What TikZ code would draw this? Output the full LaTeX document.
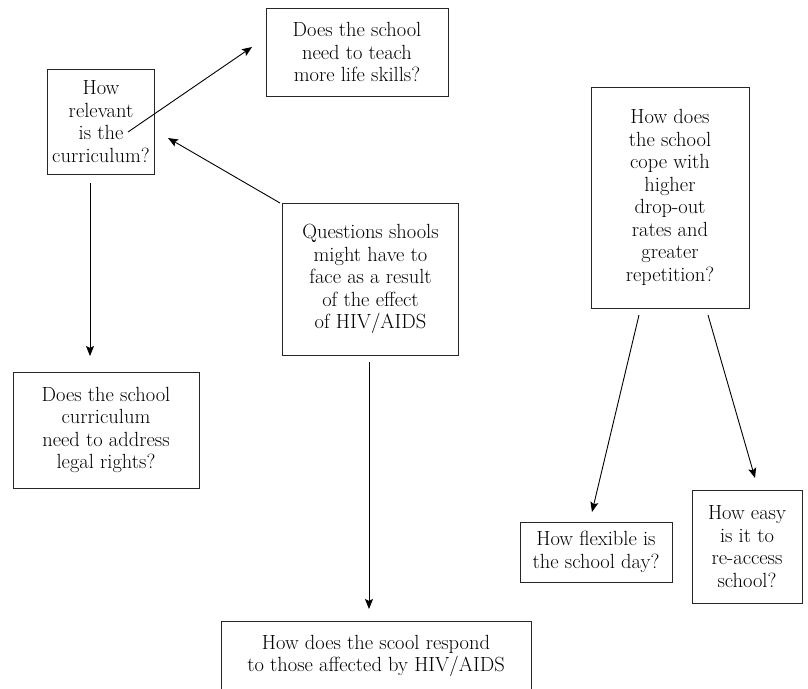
\documentclass[tikz,border=0pt]{standalone}
\usetikzlibrary{arrows.meta}
\begin{document}
\begin{tikzpicture}[x=1pt,y=-1pt,
  qbox/.style={draw=black!85,line width=0.9pt,align=center,inner sep=0pt,
    font=\fontsize{20.5}{22.5}\selectfont},
  conn/.style={line width=0.9pt,-{Stealth[length=10pt,width=8pt,inset=2pt]}}]
\useasboundingbox (0,0) rectangle (808,688);
% boxes
\node[qbox,minimum width=182pt,minimum height=88pt] (skills) at (357,52)
  {Does the school\\need to teach\\more life skills?};
\node[qbox,minimum width=107pt,minimum height=105pt] (relevant) at (101,121.5)
  {How\\relevant\\is the\\curriculum?};
\node[qbox,minimum width=176pt,minimum height=152pt] (questions) at (370.5,279)
  {Questions shools\\might have to\\face as a result\\of the effect\\of HIV/AIDS};
\node[qbox,minimum width=186pt,minimum height=116pt] (legal) at (106,430)
  {Does the school\\curriculum\\need to address\\legal rights?};
\node[qbox,minimum width=158pt,minimum height=221pt] (cope) at (670,197.5)
  {How does\\the school\\cope with\\higher\\drop-out\\rates and\\greater\\repetition?};
\node[qbox,minimum width=152pt,minimum height=60pt] (flexible) at (596,552)
  {How flexible is\\the school day?};
\node[qbox,minimum width=110pt,minimum height=113pt] (easy) at (747,546.5)
  {How easy\\is it to\\re-access\\school?};
\node[qbox,minimum width=310pt,minimum height=70pt] (respond) at (376,656)
  {How does the scool respond\\to those affected by HIV/AIDS};
% connector end points
\coordinate (relS) at (128,132);
\coordinate (sklE) at (252,47);
\coordinate (qS) at (280,203);
\coordinate (relE) at (168,138);
\coordinate (relD) at (90,183);
\coordinate (legE) at (90,356);
\coordinate (qD) at (369,362);
\coordinate (resE) at (369,609);
\coordinate (copeL) at (639,315);
\coordinate (flexE) at (592,512);
\coordinate (copeR) at (708,315);
\coordinate (easyE) at (755,478);
% connectors
\draw[conn] (relS) -- (sklE);
\draw[conn] (qS) -- (relE);
\draw[conn] (relD) -- (legE);
\draw[conn] (qD) -- (resE);
\draw[conn] (copeL) -- (flexE);
\draw[conn] (copeR) -- (easyE);
\end{tikzpicture}
\end{document}
